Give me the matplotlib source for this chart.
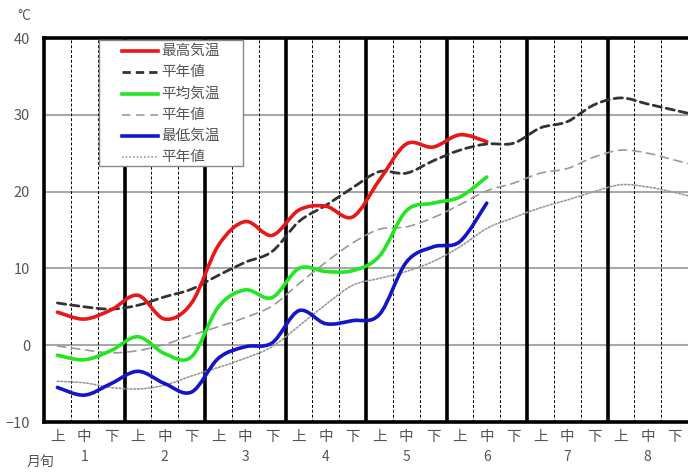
import numpy as np
import matplotlib
matplotlib.use("Agg")
import matplotlib.pyplot as plt
from matplotlib.path import Path
from matplotlib.patches import PathPatch, Rectangle
from matplotlib.lines import Line2D

plt.rcParams["font.family"] = ["Noto Sans CJK JP", "DejaVu Sans"]

# ---------------------------------------------------
# data (旬ごと, 1月上旬 から)
# ---------------------------------------------------
months = [1, 2, 3, 4, 5, 6, 7, 8]
dekads = ["上", "中", "下"]

# observed: 1月上旬 .. 6月中旬
t_max = [4.3, 3.4, 4.6, 6.5, 3.4, 5.5, 13.0, 16.1, 14.3, 17.6, 18.1, 16.7,
         21.5, 26.2, 25.8, 27.4, 26.5]
t_mean = [-1.3, -1.9, -0.7, 1.1, -1.1, -1.5, 5.0, 7.2, 6.2, 10.0, 9.6, 9.7,
          11.6, 17.5, 18.5, 19.3, 21.9]
t_min = [-5.5, -6.5, -5.0, -3.4, -5.0, -6.1, -1.7, -0.2, 0.3, 4.5, 2.8, 3.2,
         4.0, 10.8, 12.8, 13.5, 18.5]

# normals: 1月上旬 .. 9月上旬 (last one runs off the right edge)
n_max = [5.5, 5.0, 4.7, 5.2, 6.3, 7.3, 9.1, 10.8, 12.2, 16.1, 18.2, 20.5,
         22.6, 22.4, 24.0, 25.4, 26.2, 26.3, 28.3, 29.1, 31.3, 32.2, 31.4,
         30.6, 29.8]
n_mean = [-0.1, -0.6, -1.0, -0.7, 0.1, 1.3, 2.4, 3.6, 5.1, 8.0, 10.8, 13.3,
          15.1, 15.4, 16.6, 18.3, 20.1, 21.1, 22.4, 23.0, 24.5, 25.4, 25.0,
          24.1, 23.2]
n_min = [-4.7, -4.9, -5.5, -5.7, -5.2, -4.0, -2.9, -1.7, -0.2, 2.5, 5.3, 7.8,
         8.7, 9.6, 10.9, 12.8, 15.2, 16.6, 17.9, 18.9, 20.0, 20.9, 20.6,
         19.9, 19.0]

TEXT = "#555555"


def smooth_path(ys):
    # Excel 風のスムージング (Catmull-Rom -> Bezier)
    pts = np.column_stack([np.arange(len(ys)) + 0.5, ys]).astype(float)
    verts = [pts[0]]
    codes = [Path.MOVETO]
    n = len(pts)
    for i in range(n - 1):
        p0 = pts[i - 1] if i > 0 else pts[i]
        p1, p2 = pts[i], pts[i + 1]
        p3 = pts[i + 2] if i + 2 < n else pts[i + 1]
        verts += [p1 + (p2 - p0) / 6, p2 - (p3 - p1) / 6, p2]
        codes += [Path.CURVE4] * 3
    return Path(verts, codes)


series = [
    (t_max, "最高気温", dict(color="#e81818", lw=2.6, ls="-"), 6),
    (n_max, "平年値", dict(color="#333333", lw=2.0, ls=(0, (3.0, 1.8))), 5),
    (t_mean, "平均気温", dict(color="#22e622", lw=2.6, ls="-"), 6),
    (n_mean, "平年値", dict(color="#999999", lw=1.2, ls=(0, (5, 3.5))), 4),
    (t_min, "最低気温", dict(color="#1414c8", lw=2.6, ls="-"), 6),
    (n_min, "平年値", dict(color="#999999", lw=1.2, ls=(0, (1, 1.2))), 4),
]

fig = plt.figure(figsize=(6.88, 4.72), dpi=100)
ax = fig.add_axes([44 / 688, 50 / 472, 644 / 688, 384 / 472])

n_dek = len(months) * 3
ax.set_xlim(0, n_dek)
ax.set_ylim(-10, 40)

# grid
for y in [0, 10, 20, 30]:
    ax.axhline(y, color="#a8a8a8", lw=1.5, zorder=1)
for i in range(1, n_dek):
    if i % 3 == 0:
        ax.axvline(i, color="black", lw=2.6, zorder=2)
    else:
        ax.axvline(i, color="black", lw=0.7, ls=(0, (3, 2)), zorder=1)

for spine in ["left", "top", "bottom"]:
    ax.spines[spine].set_linewidth(2.6)
ax.spines["right"].set_visible(False)

# curves
for ys, label, st, z in series:
    patch = PathPatch(smooth_path(ys), fill=False, edgecolor=st["color"],
                      lw=st["lw"], linestyle=st["ls"], capstyle="round",
                      joinstyle="round", zorder=z)
    ax.add_patch(patch)

# axes labels
ax.set_yticks([-10, 0, 10, 20, 30, 40])
ax.tick_params(axis="y", length=0, pad=10, labelsize=10.5, labelcolor=TEXT)
centers = np.arange(n_dek) + 0.5
ax.set_xticks(centers, dekads * len(months))
ax.tick_params(axis="x", length=0, pad=6, labelsize=10.5, labelcolor=TEXT)
for k, m in enumerate(months):
    ax.text(3 * k + 1.5, -0.091, str(m), transform=ax.get_xaxis_transform(),
            ha="center", va="center", fontsize=10, color=TEXT)

fig.text(24 / 688, 1 - 16 / 472, "°C", ha="center", va="center",
         fontsize=10, color=TEXT)
fig.text(40 / 688, 1 - 463 / 472, "月旬", ha="center", va="center",
         fontsize=10, color=TEXT)

# legend box (manual, to match the original spacing)
W, H = 644.0, 384.0
ax.add_patch(Rectangle(((99 - 44) / W, (422 - 166) / H), 144 / W, 126 / H,
                       transform=ax.transAxes, facecolor="white",
                       edgecolor="#888888", lw=1.0, zorder=10))
row_y = [51, 72, 94, 115, 136, 157]
for (ys, label, st, z), yp in zip(series, row_y):
    yy = (422 - yp) / H
    ax.add_artist(Line2D([(122 - 44) / W, (158 - 44) / W], [yy, yy],
                         transform=ax.transAxes, color=st["color"],
                         lw=st["lw"], ls=st["ls"], zorder=11))
    ax.text((161 - 44) / W, yy, label, transform=ax.transAxes, ha="left",
            va="center", fontsize=10.5, color=TEXT, zorder=12)

fig.savefig("out.png", dpi=100)
